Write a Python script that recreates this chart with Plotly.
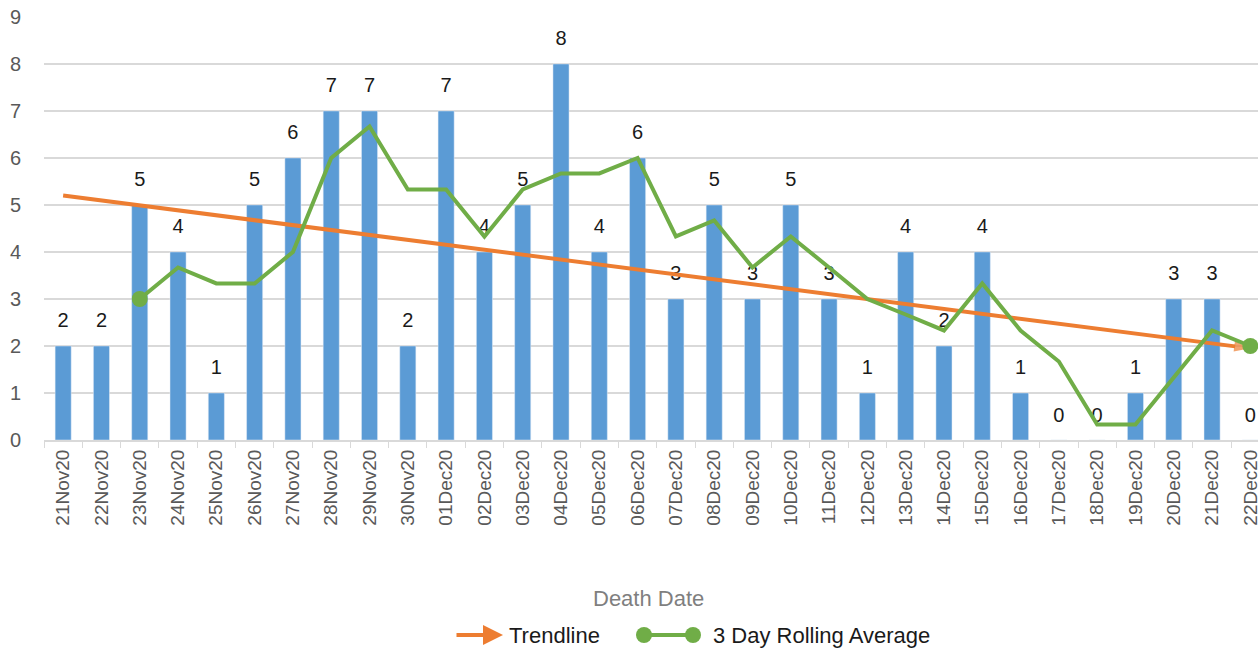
import plotly.graph_objects as go

dates = ["21Nov20", "22Nov20", "23Nov20", "24Nov20", "25Nov20", "26Nov20", "27Nov20",
         "28Nov20", "29Nov20", "30Nov20", "01Dec20", "02Dec20", "03Dec20", "04Dec20",
         "05Dec20", "06Dec20", "07Dec20", "08Dec20", "09Dec20", "10Dec20", "11Dec20",
         "12Dec20", "13Dec20", "14Dec20", "15Dec20", "16Dec20", "17Dec20", "18Dec20",
         "19Dec20", "20Dec20", "21Dec20", "22Dec20"]
deaths = [2, 2, 5, 4, 1, 5, 6, 7, 7, 2, 7, 4, 5, 8, 4, 6, 3, 5, 3, 5, 3, 1, 4, 2, 4, 1, 0, 0, 1, 3, 3, 0]

rolling_dates = dates[2:]
rolling_avg = [3.0, 3.67, 3.33, 3.33, 4.0, 6.0, 6.67, 5.33, 5.33, 4.33, 5.33, 5.67, 5.67, 6.0,
               4.33, 4.67, 3.67, 4.33, 3.67, 3.0, 2.67, 2.33, 3.33, 2.33, 1.67, 0.33, 0.33,
               1.33, 2.33, 2.0]

trend_dates = ["21Nov20", "22Dec20"]
trend_vals = [5.2, 1.95]

FONT = "Liberation Sans"
GRAY = "#595959"
ORANGE = "#ED7D31"
GREEN = "#70AD47"

# plot-area geometry (pixels)
L, R, T, B, W, H = 44, 0, 16, 210, 1258, 650
PW, PH = W - L - R, H - T - B


def px(x):
    return (x - L) / PW


def py(y):
    return (H - B - y) / PH


fig = go.Figure()
fig.add_trace(go.Bar(
    x=dates, y=deaths, marker_color="#5B9BD5", width=0.42,
    showlegend=False, hoverinfo="x+y",
))
fig.add_trace(go.Scatter(
    x=dates, y=deaths, mode="markers+text",
    marker=dict(size=20, opacity=0),
    text=[str(v) for v in deaths], textposition="top center",
    textfont=dict(family=FONT, size=20, color="#1a1a1a"),
    cliponaxis=False, showlegend=False, hoverinfo="skip",
))
fig.add_trace(go.Scatter(
    x=trend_dates, y=trend_vals, name="Trendline", mode="lines+markers",
    line=dict(color=ORANGE, width=4),
    marker=dict(symbol=["circle", "arrow"], size=[0, 17], color=ORANGE,
                angleref="previous", line=dict(width=0)),
    cliponaxis=False, showlegend=False,
))
fig.add_trace(go.Scatter(
    x=rolling_dates, y=rolling_avg, name="3 Day Rolling Average", mode="lines+markers",
    line=dict(color=GREEN, width=4),
    marker=dict(size=[16] + [0] * (len(rolling_avg) - 2) + [16], color=GREEN,
                opacity=1, line=dict(width=0)),
    cliponaxis=False, showlegend=False,
))

ly = 635
shapes = [
    dict(type="line", xref="paper", yref="paper", x0=px(640), x1=px(694), y0=py(ly), y1=py(ly),
         line=dict(color=GREEN, width=4)),
    dict(type="circle", xref="paper", yref="paper", x0=px(636), x1=px(652), y0=py(ly - 8),
         y1=py(ly + 8), fillcolor=GREEN, line=dict(width=0)),
    dict(type="circle", xref="paper", yref="paper", x0=px(685), x1=px(701), y0=py(ly - 8),
         y1=py(ly + 8), fillcolor=GREEN, line=dict(width=0)),
]
annotations = [
    dict(text="Death Date", xref="paper", yref="paper", x=px(648), y=py(598),
         xanchor="center", yanchor="middle", showarrow=False,
         font=dict(family=FONT, size=22, color="#7f7f7f")),
    dict(text="", xref="paper", yref="paper", x=px(503), y=py(ly), ax=-48, ay=0,
         showarrow=True, arrowhead=2, arrowsize=1, arrowwidth=4, arrowcolor=ORANGE),
    dict(text="Trendline", xref="paper", yref="paper", x=px(507), y=py(ly),
         xanchor="left", yanchor="middle", showarrow=False,
         font=dict(family=FONT, size=22, color="#1a1a1a")),
    dict(text="3 Day Rolling Average", xref="paper", yref="paper", x=px(711), y=py(ly),
         xanchor="left", yanchor="middle", showarrow=False,
         font=dict(family=FONT, size=22, color="#1a1a1a")),
]

fig.update_layout(
    width=W, height=H,
    margin=dict(l=L, r=R, t=T, b=B),
    paper_bgcolor="white", plot_bgcolor="white",
    font=dict(family=FONT, color=GRAY),
    showlegend=False,
    xaxis=dict(
        type="category", range=[-0.5, 31.2], tickangle=-90, automargin=False,
        tickfont=dict(family=FONT, size=19, color=GRAY),
        showline=True, linecolor="#d9d9d9", linewidth=2,
        ticks="outside", tickson="boundaries", ticklen=6, tickcolor="#d9d9d9",
        showgrid=False,
    ),
    yaxis=dict(
        range=[0, 9.02], tickvals=list(range(10)), showgrid=True, gridcolor="#d9d9d9",
        gridwidth=2, zeroline=False, automargin=False,
        tickfont=dict(family=FONT, size=20, color=GRAY),
        ticks="", ticklabelstandoff=22,
    ),
    shapes=shapes,
    annotations=annotations,
)

fig.write_html(
    "out.html",
    config={"displayModeBar": False},
    post_script="document.body.style.margin='0';document.body.style.padding='0';"
                "document.body.style.overflow='hidden';",
)
